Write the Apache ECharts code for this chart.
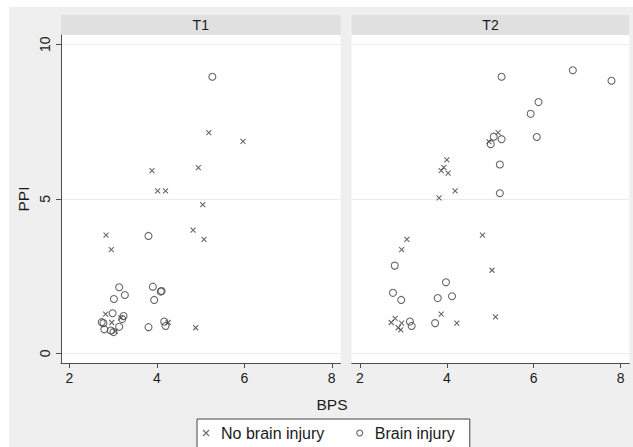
<!DOCTYPE html>
<html>
<head>
<meta charset="utf-8">
<script src="https://cdn.jsdelivr.net/npm/echarts@6/dist/echarts.min.js"></script>
<style>html,body{margin:0;padding:0;background:#fff}#c{width:633px;height:447px}</style>
</head>
<body>
<div id="c"></div>
<script>
// ---- data ----
const panelTitles = ['T1', 'T2'];
const xTicks = [2, 4, 6, 8];
const yTicks = [0, 5, 10];
const seriesNames = ['No brain injury', 'Brain injury'];
const xTitle = 'BPS';
const yTitle = 'PPI';

const t1NoInjury = [
  [3.89,5.91],[4.02,5.26],[4.20,5.26],[4.95,6.01],[5.19,7.14],[5.97,6.86],
  [5.05,4.81],[2.84,3.83],[4.83,3.99],[5.08,3.69],[2.96,3.36],
  [2.83,1.27],[2.97,1.00],[3.05,0.71],[3.18,1.15],[4.26,1.00],[4.89,0.83]
];
const t1Injury = [
  [5.27,8.95],[3.81,3.80],[3.14,2.14],[3.27,1.89],[3.02,1.76],[3.91,2.16],
  [4.09,2.00],[4.11,2.02],[3.94,1.73],[2.99,1.30],[3.24,1.21],[3.21,1.11],
  [2.74,1.01],[2.78,0.98],[2.80,0.78],[2.95,0.74],[3.01,0.69],[3.14,0.86],
  [3.81,0.85],[4.17,1.03],[4.20,0.89]
];
const t2NoInjury = [
  [5.18,7.14],[4.97,6.85],[4.00,6.26],[3.93,6.02],[3.87,5.91],[4.03,5.83],
  [4.19,5.26],[3.82,5.03],[4.82,3.83],[3.08,3.69],[2.96,3.36],[5.04,2.69],
  [3.87,1.27],[5.12,1.18],[4.23,0.98],[2.81,1.13],[2.72,1.00],[2.96,0.98],
  [2.88,0.83],[2.94,0.76]
];
const t2Injury = [
  [5.26,8.95],[6.90,9.16],[7.79,8.82],[6.11,8.13],[5.93,7.75],[6.07,7.00],
  [5.26,6.93],[5.08,7.01],[5.01,6.77],[5.22,6.11],[5.22,5.18],[2.80,2.84],
  [3.98,2.30],[2.76,1.96],[2.95,1.73],[3.79,1.79],[4.12,1.85],[3.73,0.98],
  [3.15,1.03],[3.19,0.89]
];

// ---- styling / layout ----
const FONT = 'Liberation Sans, Arial, Helvetica, sans-serif';
const INK = '#1a1a1a';
const MARK = '#444444';
const AXIS = '#4d4d4d';
const xPath = 'path://M0,0L10,10M10,0L0,10';
const panels = [
  {left: 61, width: 279.5},
  {left: 351.7, width: 277.6}
];
const plotTop = 35, plotH = 328;
const xMin = 1.81, xMax = 8.2, yMin = -0.31, yMax = 10.3;

const chart = echarts.init(document.getElementById('c'), null, {renderer: 'svg'});

const grids = panels.map(p => ({left: p.left, top: plotTop, width: p.width, height: plotH, show: true, backgroundColor: '#ffffff', borderWidth: 0}));

const xAxes = panels.map((p, i) => ({
  type: 'value', gridIndex: i, min: xMin, max: xMax,
  axisLine: {show: true, onZero: false, lineStyle: {color: AXIS, width: 1}},
  axisTick: {show: true, length: 5, customValues: xTicks, lineStyle: {color: AXIS}},
  axisLabel: {show: true, customValues: xTicks, margin: 8, color: INK, fontSize: 14, fontFamily: FONT},
  splitLine: {show: false}
}));

const yAxes = panels.map((p, i) => ({
  type: 'value', gridIndex: i, min: yMin, max: yMax,
  name: i === 0 ? yTitle : '', nameLocation: 'middle', nameGap: 30, nameRotate: 90,
  nameTextStyle: {color: INK, fontSize: 15.5, fontFamily: FONT},
  axisLine: {show: i === 0, onZero: false, lineStyle: {color: AXIS, width: 1}},
  axisTick: {show: i === 0, length: 5, customValues: yTicks, lineStyle: {color: AXIS}},
  axisLabel: {show: i === 0, customValues: yTicks, rotate: 90, margin: 9, color: INK, fontSize: 14, fontFamily: FONT},
  splitLine: {show: true, lineStyle: {color: '#ebebeb', width: 1}}
}));

const xStyle = {color: 'transparent', borderColor: MARK, borderWidth: 1.1};
const oStyle = {color: 'transparent', borderColor: MARK, borderWidth: 1.1};
const series = [
  {name: seriesNames[0], type: 'scatter', xAxisIndex: 0, yAxisIndex: 0, data: t1NoInjury, symbol: xPath, symbolSize: 5, itemStyle: xStyle},
  {name: seriesNames[1], type: 'scatter', xAxisIndex: 0, yAxisIndex: 0, data: t1Injury, symbol: 'circle', symbolSize: 7, itemStyle: oStyle},
  {name: seriesNames[0], type: 'scatter', xAxisIndex: 1, yAxisIndex: 1, data: t2NoInjury, symbol: xPath, symbolSize: 5, itemStyle: xStyle},
  {name: seriesNames[1], type: 'scatter', xAxisIndex: 1, yAxisIndex: 1, data: t2Injury, symbol: 'circle', symbolSize: 7, itemStyle: oStyle}
].map(s => Object.assign(s, {silent: true, animation: false, emphasis: {disabled: true}}));

const graphics = [
  {type: 'rect', z: -10, silent: true, shape: {x: 9, y: 7, width: 640, height: 450}, style: {fill: '#efefef'}}
];
panels.forEach((p, i) => {
  graphics.push({type: 'rect', z: -5, silent: true, shape: {x: p.left, y: 15, width: p.width, height: 20}, style: {fill: '#e0e0e0'}});
  graphics.push({type: 'text', z: 5, silent: true, x: p.left + p.width / 2, y: 25,
    style: {text: panelTitles[i], fill: INK, font: '14px ' + FONT, textAlign: 'center', textVerticalAlign: 'middle'}});
});
graphics.push({type: 'text', z: 5, silent: true, x: 332, y: 404,
  style: {text: xTitle, fill: INK, font: '15.5px ' + FONT, textAlign: 'center', textVerticalAlign: 'middle'}});

chart.setOption({
  animation: false,
  backgroundColor: '#ffffff',
  grid: grids,
  xAxis: xAxes,
  yAxis: yAxes,
  series: series,
  graphic: graphics,
  legend: {
    left: 197, top: 419,
    padding: [6, 15, 12, 5.5],
    backgroundColor: '#ffffff', borderColor: '#444444', borderWidth: 1, borderRadius: 0,
    itemWidth: 6, itemHeight: 6, itemGap: 32,
    selectedMode: false,
    textStyle: {color: INK, fontSize: 16, fontFamily: FONT, padding: [0, 0, 0, 7]},
    data: [
      {name: seriesNames[0], icon: xPath, itemStyle: {color: 'transparent', borderColor: MARK, borderWidth: 1.1}},
      {name: seriesNames[1], icon: 'circle', itemStyle: {color: 'transparent', borderColor: MARK, borderWidth: 1.1}}
    ]
  }
});
</script>
</body>
</html>
